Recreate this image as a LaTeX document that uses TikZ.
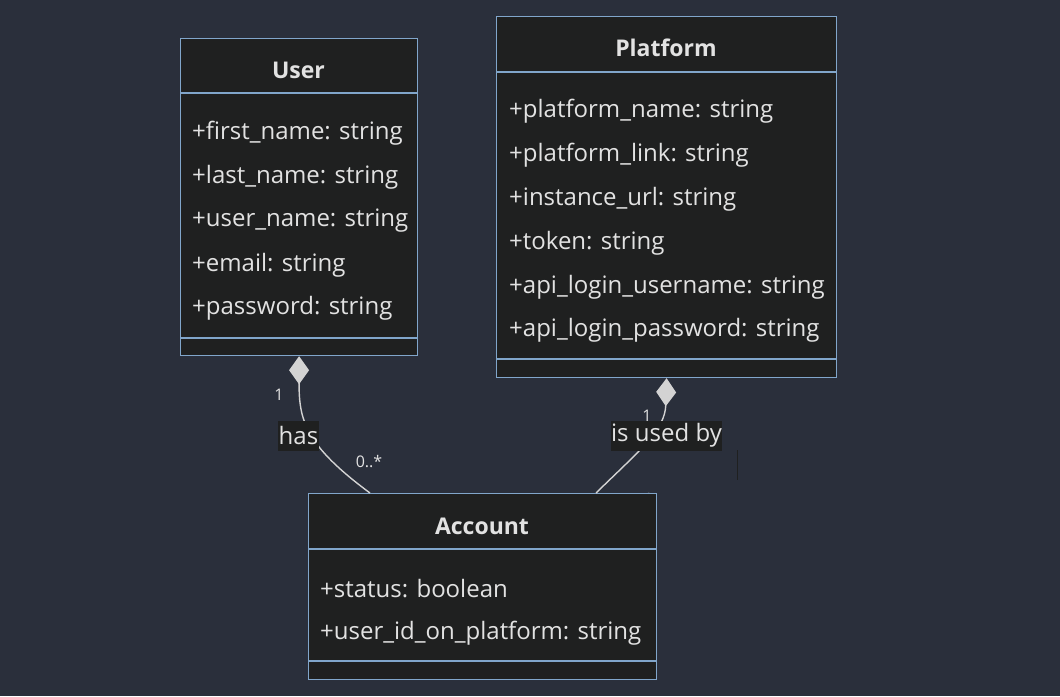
\documentclass[tikz,border=0pt]{standalone}
\usepackage{fontspec}
\setmainfont{Open Sans}
\usetikzlibrary{arrows.meta}
\definecolor{bg}{HTML}{2A2F3B}
\definecolor{boxfill}{HTML}{1F2020}
\definecolor{boxline}{HTML}{81A6CB}
\definecolor{txt}{HTML}{E2E2E2}
\definecolor{lnk}{HTML}{D3D3D3}
\tikzset{
  classbox/.style={draw=boxline, fill=boxfill, line width=1.2pt, rectangle, anchor=north west, inner sep=0pt},
  divider/.style={draw=boxline, line width=1.2pt},
  title/.style={text=txt, font=\fontsize{23}{26}\selectfont\bfseries, inner sep=0pt},
  attr/.style={text=txt, font=\fontsize{24}{27}\selectfont, anchor=west, inner sep=0pt},
  assoc/.style={draw=lnk, line width=1.4pt, {Diamond[length=28pt,width=20pt,fill=lnk]}-},
  edgelabel/.style={fill=boxfill, text=txt, font=\fontsize{24}{27}\selectfont, inner xsep=0.5pt, inner ysep=1pt, minimum height=30pt},
  mult/.style={text=txt, font=\fontsize{16}{18}\selectfont, inner sep=0pt}
}
\begin{document}
\begin{tikzpicture}[x=1pt,y=-1pt]
\useasboundingbox (0,0) rectangle (1060,696);
\fill[bg] (0,0) rectangle (1060,696);
% hidden multiplicity behind Account
\node[mult] (mhid) at (640,500) {0..*};
% User
\node[classbox, minimum width=237pt, minimum height=317pt] (user) at (180,38) {};
\draw[divider] (180,93) -- (417,93);
\draw[divider] (180,338) -- (417,338);
\node[title] (usert) at (298.5,70) {User};
\node[attr] (u1) at (192,133) {+first\_name: string};
\node[attr] (u2) at (192,177) {+last\_name: string};
\node[attr] (u3) at (192,221) {+user\_name: string};
\node[attr] (u4) at (192,265) {+email: string};
\node[attr] (u5) at (192,308) {+password: string};
% Platform
\node[classbox, minimum width=340pt, minimum height=361pt] (plat) at (496,16) {};
\draw[divider] (496,72) -- (836,72);
\draw[divider] (496,359) -- (836,359);
\node[title] (platt) at (666,48) {Platform};
\node[attr] (p1) at (509,111) {+platform\_name: string};
\node[attr] (p2) at (509,155) {+platform\_link: string};
\node[attr] (p3) at (509,199) {+instance\_url: string};
\node[attr] (p4) at (509,243) {+token: string};
\node[attr] (p5) at (509,287) {+api\_login\_username: string};
\node[attr] (p6) at (509,330) {+api\_login\_password: string};
% Account
\node[classbox, minimum width=348pt, minimum height=186pt] (acc) at (308,493) {};
\draw[divider] (308,549) -- (656,549);
\draw[divider] (308,661) -- (656,661);
\node[title] (acct) at (482,526) {Account};
\node[attr] (a1) at (320,589) {+status: boolean};
\node[attr] (a2) at (320,633) {+user\_id\_on\_platform: string};
% connectors
\coordinate (accL) at (370,493);
\coordinate (accR) at (596,493);
\draw[assoc] (user.south) .. controls (299,420) and (305,445) .. (accL);
\draw[assoc] (plat.south) .. controls (665,430) and (640,450) .. (accR);
\node[edgelabel] (has) at (298.5,435.5) {has};
\node[edgelabel] (used) at (666.5,435.5) {is used by};
\node[mult] (m1) at (279,395) {1};
\node[mult] (m2) at (369,462) {0..*};
\node[mult] (m3) at (647,416) {1};
\coordinate (va) at (737,450);
\coordinate (vb) at (737,480);
\draw[boxfill, line width=1pt] (va) -- (vb);
\end{tikzpicture}
\end{document}
